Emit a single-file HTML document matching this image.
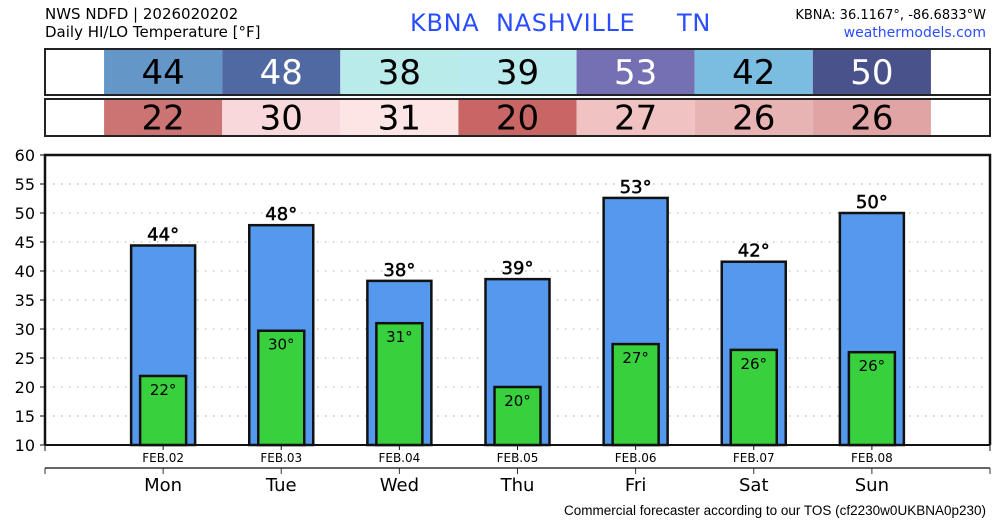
<!DOCTYPE html>
<html><head><meta charset="utf-8"><style>
body{margin:0;background:#fff;font-family:"DejaVu Sans","Liberation Sans",sans-serif}
svg{display:block}
</style></head><body>
<svg id="c" width="1000" height="520" xmlns="http://www.w3.org/2000/svg">
<text x="45" y="19" font-size="15" fill="#000">NWS NDFD | 2026020202</text>
<text x="45" y="37" font-size="15" fill="#000">Daily HI/LO Temperature [°F]</text>
<text x="410" y="31" font-size="24" letter-spacing="0.7" fill="#2a4dff" xml:space="preserve">KBNA  NASHVILLE     TN</text>
<text x="986" y="19" font-size="13" text-anchor="end" fill="#000">KBNA: 36.1167°, -86.6833°W</text>
<text x="986" y="37" font-size="14" text-anchor="end" fill="#2a4dff">weathermodels.com</text>
<g id="g"></g>
<text x="986" y="515" font-size="13.5" text-anchor="end" font-family="Liberation Sans, sans-serif" fill="#000">Commercial forecaster according to our TOS (cf2230w0UKBNA0p230)</text>
</svg>
<script>
const days=["Mon","Tue","Wed","Thu","Fri","Sat","Sun"];
const dates=["FEB.02","FEB.03","FEB.04","FEB.05","FEB.06","FEB.07","FEB.08"];
const highs=[44.4,47.9,38.3,38.6,52.6,41.6,50.0];
const lows=[21.9,29.7,31.0,20.0,27.4,26.4,26.0];
const hiColors=["#6496c8","#5169a3","#b9ebeb","#b9ebee","#7570b3","#7bbde0","#4a528c"];
const loColors=["#cc7373","#f8d8da","#fde5e5","#c86565","#f0c2c2","#e8b3b3","#e0a4a4"];
const yTicks=[10,15,20,25,30,35,40,45,50,55,60];
const NS="http://www.w3.org/2000/svg";
const g=document.getElementById('g');
const L=45,R=990,T=155,B=445,step=(R-L)/8;
const x=i=>L+(i+1)*step;
const y=v=>B-(v-10)*(B-T)/50;
function mk(t,a,p){const e=document.createElementNS(NS,t);for(const k in a)e.setAttribute(k,a[k]);(p||g).appendChild(e);return e;}
[[49,95,highs,hiColors,'hi'],[99,136,lows,loColors,'lo']].forEach(([t,b,vals,cols,kind])=>{
  const box=mk('rect',{x:L,y:t,width:R-L,height:b-t,fill:'#fff',stroke:'#222','stroke-width':2});
  
  
  vals.forEach((v,i)=>{
    const c=mk('rect',{x:x(i)-step/2,y:t+1,width:step,height:b-t-2,fill:cols[i]});
    
    
    const dark=(kind==='hi'&&(i===1||i===4||i===6));
    const tx=mk('text',{x:x(i),y:(t+b)/2+12,'font-size':34,'text-anchor':'middle',fill:dark?'#fff':'#000'});
    tx.textContent=Math.round(v);
    
    
  });
});
yTicks.forEach(v=>{
  if(v>10&&v<60){const l=mk('line',{x1:L,x2:R,y1:y(v),y2:y(v),stroke:'#bbb','stroke-dasharray':'1.5,6.5','stroke-width':1.3});
  
  }
  mk('line',{x1:L-5,x2:L,y1:y(v),y2:y(v),stroke:'#000'});
  const t=mk('text',{x:L-10,y:y(v)+6,'font-size':16,'text-anchor':'end'});
  t.textContent=v;
  
  
});
highs.forEach((v,i)=>{
  const b=mk('rect',{x:x(i)-32,y:y(v),width:64,height:B-y(v),fill:'#5599ee',stroke:'#111','stroke-width':2.5});
  
  
  const t=mk('text',{x:x(i),y:y(v)-5,'font-size':18,'text-anchor':'middle',stroke:'#000','stroke-width':0.5});
  t.textContent=Math.round(v)+'°';
  
  
});
lows.forEach((v,i)=>{
  const b=mk('rect',{x:x(i)-23,y:y(v),width:46,height:B-y(v),fill:'#38d03c',stroke:'#111','stroke-width':2.5});
  
  
  const t=mk('text',{x:x(i),y:y(v)+19,'font-size':15,'text-anchor':'middle'});
  t.textContent=Math.round(v)+'°';
  
  
});
const fr=mk('path',{d:`M${L},${B}V${T}H${R}V${B}`,fill:'none',stroke:'#111','stroke-width':2.5});


mk('line',{x1:L,x2:R,y1:B,y2:B,stroke:'#111','stroke-width':2});
mk('line',{x1:L,x2:L,y1:B,y2:B+6,stroke:'#111'});mk('line',{x1:R,x2:R,y1:B,y2:B+6,stroke:'#111'});
mk('line',{x1:L,x2:R,y1:468,y2:468,stroke:'#333','stroke-width':1.5});
mk('line',{x1:L,x2:L,y1:468,y2:474,stroke:'#333'});mk('line',{x1:R,x2:R,y1:468,y2:474,stroke:'#333'});
dates.forEach((d,i)=>{
  mk('line',{x1:x(i),x2:x(i),y1:B,y2:B+5,stroke:'#111'});
  mk('line',{x1:x(i),x2:x(i),y1:468,y2:474,stroke:'#333'});
  const t=mk('text',{x:x(i),y:462,'font-size':12,'text-anchor':'middle'});
  t.textContent=d;
  
  
  const t2=mk('text',{x:x(i),y:491,'font-size':18,'text-anchor':'middle'});
  t2.textContent=days[i];
  
  
});
</script>
</body></html>
